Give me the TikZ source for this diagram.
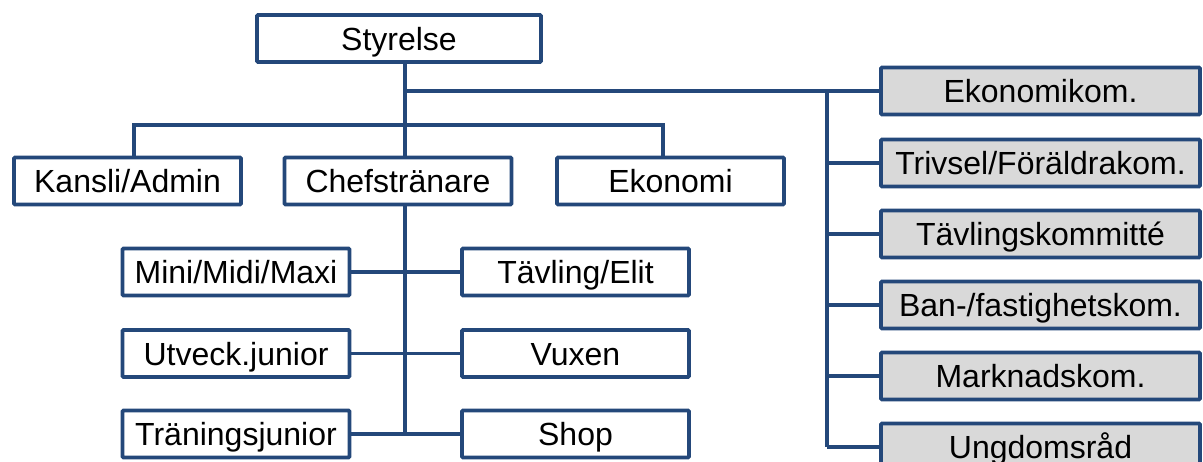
\documentclass[tikz,border=0pt]{standalone}
\usepackage{fontspec}
\setmainfont{Liberation Sans}
\definecolor{orgblue}{HTML}{24487A}
\definecolor{komgray}{HTML}{D9D9D9}
\tikzset{
  box/.style={draw=orgblue, line width=3.8pt, fill=white, rounded corners=1pt,
    minimum width=227pt, minimum height=47pt, inner sep=0pt,
    text height=23pt, text depth=0pt,
    font=\fontsize{32}{34}\selectfont},
  kombox/.style={box, fill=komgray, minimum width=319pt},
  link/.style={draw=orgblue, line width=3.8pt},
}
\begin{document}
\begin{tikzpicture}[x=1pt,y=-1pt]
        \useasboundingbox (0,0) rectangle (1203,461);
        % styrelsen
        \node[box, minimum width=284pt] (styrelse) at (399,38.5) {Styrelse};
        % första raden
        \node[box] (kansli) at (127.5,181) {Kansli/Admin};
        \node[box] (chef) at (398,181) {Chefstränare};
        \node[box] (ekonomi) at (670.5,181) {Ekonomi};
        % grupper under chefstränaren
        \node[box] (mini) at (236,272) {Mini/Midi/Maxi};
        \node[box] (tavling) at (575.5,272) {Tävling/Elit};
        \node[box] (utveck) at (236,353.5) {Utveck.junior};
        \node[box] (vuxen) at (575.5,353.5) {Vuxen};
        \node[box] (traning) at (236,434) {Träningsjunior};
        \node[box] (shop) at (575.5,434) {Shop};
        % kommittéer
        \node[kombox] (kom1) at (1040.5,91) {Ekonomikom.};
        \node[kombox] (kom2) at (1040.5,163) {Trivsel/Föräldrakom.};
        \node[kombox] (kom3) at (1040.5,234) {Tävlingskommitté};
        \node[kombox] (kom4) at (1040.5,305) {Ban-/fastighetskom.};
        \node[kombox] (kom5) at (1040.5,376) {Marknadskom.};
        \node[kombox] (kom6) at (1040.5,447) {Ungdomsråd};
        % hjälppunkter för linjerna
        \coordinate (bus) at (405,125);
        \coordinate (kx) at (134,125);
        \coordinate (ex) at (663,125);
        \coordinate (rx) at (827,0);
        % linjer
        \draw[link] (styrelse.south -| bus) -- (chef.north -| bus);
        \draw[link] (kansli.north -| kx) -- (kx) -- (ex) -- (ekonomi.north -| ex);
        \draw[link] (bus |- kom1.west) -- (kom1.west);
        \draw[link] (rx |- kom1.west) -- (rx |- kom6.west);
        \foreach \i in {2,...,6}
          \draw[link] (rx |- kom\i.west) -- (kom\i.west);
        \draw[link] (chef.south -| bus) -- (bus |- shop.west);
        \draw[link] (mini) -- (tavling);
        \draw[link] (utveck) -- (vuxen);
        \draw[link] (traning) -- (shop);
      \end{tikzpicture}
\end{document}
